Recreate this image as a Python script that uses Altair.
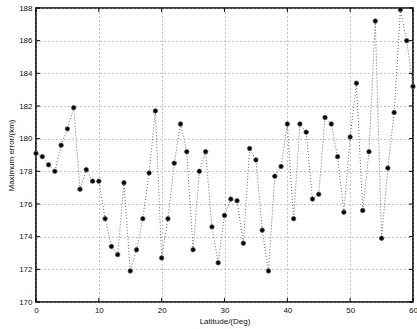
import altair as alt
import pandas as pd

# Maximum position error (km) against latitude (degrees), one sample per degree
latitude = list(range(0, 61))
max_error = [
    179.1, 178.9, 178.4, 178.0, 179.6, 180.6, 181.9, 176.9, 178.1, 177.4,
    177.4, 175.1, 173.4, 172.9, 177.3, 171.9, 173.2, 175.1, 177.9, 181.7,
    172.7, 175.1, 178.5, 180.9, 179.2, 173.2, 178.0, 179.2, 174.6, 172.4,
    175.3, 176.3, 176.2, 173.6, 179.4, 178.7, 174.4, 171.9, 177.7, 178.3,
    180.9, 175.1, 180.9, 180.4, 176.3, 176.6, 181.3, 180.9, 178.9, 175.5,
    180.1, 183.4, 175.6, 179.2, 187.2, 173.9, 178.2, 181.6, 187.9, 186.0,
    183.2,
]
x_ticks = [0, 10, 20, 30, 40, 50, 60]
y_ticks = [170, 172, 174, 176, 178, 180, 182, 184, 186, 188]

W, H = 377, 294
FONT = "Liberation Sans"

df = pd.DataFrame({"lat": latitude, "err": max_error})
xt = pd.DataFrame({"lat": x_ticks})
yt = pd.DataFrame({"err": y_ticks})

xscale = alt.Scale(domain=[0, 60], nice=False, zero=False)
yscale = alt.Scale(domain=[170, 188], nice=False, zero=False)

axis_common = dict(format="d", ticks=False, domain=False, grid=True,
                   gridDash=[1, 3], gridColor="#8a8a8a", gridWidth=1,
                   labelOverlap=False, labelFlush=False, labelBound=False)

x_enc = alt.X("lat:Q", scale=xscale, title="Latitude/(Deg)",
              axis=alt.Axis(values=x_ticks, labelPadding=4, titlePadding=3, **axis_common))
y_enc = alt.Y("err:Q", scale=yscale, title="Maximum error/(km)",
              axis=alt.Axis(values=y_ticks, labelPadding=4, titlePadding=3, **axis_common))

base = alt.Chart(df)

line = base.mark_line(color="#6a6a6a", strokeWidth=1, strokeDash=[1, 2]).encode(x=x_enc, y=y_enc)
pts = base.mark_point(filled=True, shape="circle", size=20, color="#000000",
                      stroke="#555555", strokeWidth=0.8, opacity=1).encode(x=x_enc, y=y_enc)

# inward tick marks on all four sides of the box
tick_len = 4
yl = alt.Chart(yt).mark_rule(color="black", strokeWidth=1).encode(
    y=y_enc, x=alt.value(0), x2=alt.value(tick_len))
yr = alt.Chart(yt).mark_rule(color="black", strokeWidth=1).encode(
    y=y_enc, x=alt.value(W - tick_len), x2=alt.value(W))
xb = alt.Chart(xt).mark_rule(color="black", strokeWidth=1).encode(
    x=x_enc, y=alt.value(H), y2=alt.value(H - tick_len))
xtp = alt.Chart(xt).mark_rule(color="black", strokeWidth=1).encode(
    x=x_enc, y=alt.value(0), y2=alt.value(tick_len))

chart = (
    alt.layer(line, pts, yl, yr, xb, xtp)
    .properties(
        width=W, height=H,
        autosize=alt.AutoSizeParams(type="none"),
        padding={"left": 36, "top": 8, "right": 4, "bottom": 27},
        background="white",
    )
    .configure_view(stroke="black", strokeWidth=1.6)
    .configure_axis(labelFont=FONT, titleFont=FONT, labelFontSize=8, titleFontSize=8,
                    labelColor="#111111", titleColor="#111111", titleFontWeight="normal")
)

chart.save("out.html", embed_options={"renderer": "svg", "actions": False})
